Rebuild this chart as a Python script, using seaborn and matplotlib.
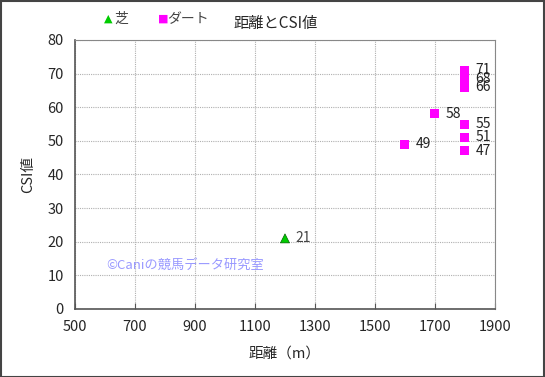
import matplotlib
matplotlib.use("Agg")
import matplotlib.pyplot as plt
import seaborn as sns
import pandas as pd
from matplotlib.patches import Rectangle

turf_dist = [1200]
turf_csi = [21]
dirt_dist = [1800, 1800, 1800, 1700, 1800, 1800, 1800, 1600]
dirt_csi = [71, 68.5, 66, 58, 55, 51, 47, 49]
dirt_labels = ["71", "68", "66", "58", "55", "51", "47", "49"]
turf_labels = ["21"]
x_ticks = [500, 700, 900, 1100, 1300, 1500, 1700, 1900]
y_ticks = [0, 10, 20, 30, 40, 50, 60, 70, 80]

sns.set_style("white")
plt.rcParams['font.family'] = ['Noto Sans CJK JP', 'DejaVu Sans']

df = pd.DataFrame({
    "dist": turf_dist + dirt_dist,
    "csi": turf_csi + dirt_csi,
    "surface": ["芝"] * len(turf_dist) + ["ダート"] * len(dirt_dist),
})

fig = plt.figure(figsize=(5.45, 3.77), dpi=100)
ax = fig.add_axes([0.1376, 0.1804, 0.7706, 0.7136])

sns.scatterplot(data=df, x="dist", y="csi", hue="surface", style="surface",
                palette={"芝": "#00cc00", "ダート": "#ff00ff"},
                markers={"芝": "^", "ダート": "s"}, s=42, edgecolor="none",
                ax=ax, legend=False, zorder=3)
ax.scatter(turf_dist, turf_csi, marker="^", s=42, facecolor="none",
           edgecolor="#006600", linewidth=0.5, zorder=4)

for x, y, t in zip(dirt_dist, dirt_csi, dirt_labels):
    ax.text(x + 35, y, t, fontsize=10, va="center", ha="left", color="#222222")
for x, y, t in zip(turf_dist, turf_csi, turf_labels):
    ax.text(x + 35, y, t, fontsize=10, va="center", ha="left", color="#444444")

ax.set_xlim(500, 1900)
ax.set_ylim(0, 80)
ax.set_xticks(x_ticks)
ax.set_yticks(y_ticks)
ax.tick_params(axis="both", labelsize=10.5, length=0, pad=8)
ax.grid(True, linestyle=(0, (1, 1)), color="#b0b0b0", linewidth=0.8)
for s in ["top", "right"]:
    ax.spines[s].set_color("#888888")
    ax.spines[s].set_linewidth(0.8)
for s in ["left", "bottom"]:
    ax.spines[s].set_color("#555555")
    ax.spines[s].set_linewidth(1.2)
ax.tick_params(axis="x", which="both", bottom=True, length=4, direction="in", color="#555555")
ax.set_xlabel("距離（m）", fontsize=10.5, labelpad=9)
ax.set_ylabel("CSI値", fontsize=10.5, labelpad=9)

ax.text(605, 13, "©Caniの競馬データ研究室", fontsize=9.5, color="#9999ff",
        va="center", ha="left")

fig.text(0.505, 0.937, "距離とCSI値", fontsize=11, ha="center", va="center")
fig.text(0.19, 0.95, "▲", fontsize=8, color="#00cc00", ha="left", va="center",
         family=['DejaVu Sans'])
fig.text(0.21, 0.95, "芝", fontsize=10, color="#444444", ha="left", va="center")
fig.text(0.29, 0.95, "■", fontsize=8, color="#ff00ff", ha="left", va="center",
         family=['DejaVu Sans'])
fig.text(0.307, 0.95, "ダート", fontsize=10, color="#444444", ha="left", va="center")

fig.patches.append(Rectangle((0.001, 0.001), 0.997, 0.997, transform=fig.transFigure,
                             fill=False, edgecolor="#444444", linewidth=1.5))

fig.savefig("out.png", dpi=100)
